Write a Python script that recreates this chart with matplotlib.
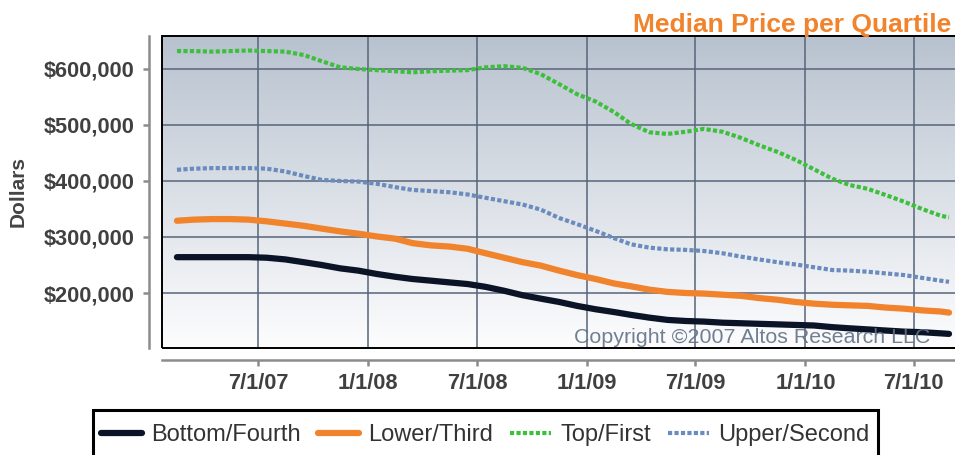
import matplotlib
matplotlib.use("Agg")
import matplotlib.pyplot as plt
from matplotlib.colors import LinearSegmentedColormap
from matplotlib.patches import Rectangle
import numpy as np
import pandas as pd

plt.rcParams['font.family'] = ['Liberation Sans', 'DejaVu Sans']

dates = ["2007-02-15", "2007-03-15", "2007-04-15", "2007-05-15", "2007-06-15",
         "2007-07-15", "2007-08-15", "2007-09-15", "2007-10-15", "2007-11-15",
         "2007-12-15", "2008-01-15", "2008-02-15", "2008-03-15", "2008-04-15",
         "2008-05-15", "2008-06-15", "2008-07-15", "2008-08-15", "2008-09-15",
         "2008-10-15", "2008-11-15", "2008-12-15", "2009-01-15", "2009-02-15",
         "2009-03-15", "2009-04-15", "2009-05-15", "2009-06-15", "2009-07-15",
         "2009-08-15", "2009-09-15", "2009-10-15", "2009-11-15", "2009-12-15",
         "2010-01-15", "2010-02-15", "2010-03-15", "2010-04-15", "2010-05-15",
         "2010-06-15", "2010-07-15", "2010-08-15", "2010-08-29"]

# values in thousands of dollars
top_first = [632, 632, 631, 632, 633, 632, 631, 625, 614, 603,
             600, 598, 596, 594, 596, 597, 598, 603, 605, 602,
             591, 573, 555, 542, 523, 502, 487, 484, 488, 493,
             488, 477, 464, 452, 438, 421, 404, 393, 386, 375,
             363, 350, 338, 335]
upper_second = [420, 422, 423, 423, 423, 422, 417, 409, 402, 400,
                399, 395, 389, 384, 382, 380, 376, 370, 364, 358,
                349, 334, 323, 311, 298, 287, 281, 278, 277, 275,
                271, 265, 260, 255, 251, 246, 241, 240, 238, 235,
                232, 227, 222, 220]
lower_third = [329, 331, 332, 332, 331, 328, 324, 320, 315, 310,
               306, 301, 297, 289, 285, 283, 279, 271, 263, 255,
               249, 240, 232, 225, 217, 212, 206, 202, 200, 199,
               197, 195, 191, 188, 184, 181, 179, 178, 177, 174,
               172, 169, 167, 165]
bottom_fourth = [264, 264, 264, 264, 264, 263, 260, 255, 250, 244,
                 240, 234, 229, 225, 222, 219, 216, 211, 204, 196,
                 190, 184, 177, 171, 166, 161, 156, 152, 150, 149,
                 147, 146, 145, 144, 143, 142, 139, 137, 135, 133,
                 131, 130, 128, 127]

x_ticks = ["2007-07-01", "2008-01-01", "2008-07-01", "2009-01-01",
           "2009-07-01", "2010-01-01", "2010-07-01"]
x_tick_labels = ["7/1/07", "1/1/08", "7/1/08", "1/1/09", "7/1/09", "1/1/10", "7/1/10"]
y_ticks = [200000, 300000, 400000, 500000, 600000]
y_tick_labels = ["$200,000", "$300,000", "$400,000", "$500,000", "$600,000"]

x = pd.to_datetime(dates)
W, H = 955, 455
fig = plt.figure(figsize=(W / 100, H / 100), dpi=100)
ax_w = 1.005 - 162 / W
ax = fig.add_axes([162 / W, 1 - 348 / H, ax_w, (348 - 36) / H])

ax.set_xlim(pd.Timestamp("2007-01-21"), pd.Timestamp("2010-09-16"))
ax.set_ylim(101800, 658900)

# gradient background
cmap = LinearSegmentedColormap.from_list("bg", ["#fdfdfe", "#b8c2cf"])
grad = np.linspace(0, 1, 256).reshape(-1, 1)
ax.imshow(grad, aspect="auto", cmap=cmap, origin="lower",
          extent=[0, 1, 0, 1], transform=ax.transAxes, zorder=0)

ax.set_xticks(pd.to_datetime(x_ticks))
ax.set_xticklabels(x_tick_labels)
ax.set_yticks(y_ticks)
ax.set_yticklabels(y_tick_labels)
ax.grid(True, color="#56657a", lw=1.1, zorder=1)
ax.set_axisbelow(True)

scale = 1000
ax.plot(x, np.array(bottom_fourth) * scale, color="#0b1426", lw=4.5,
        solid_capstyle="round", label="Bottom/Fourth", zorder=3)
ax.plot(x, np.array(lower_third) * scale, color="#f0832c", lw=4.5,
        solid_capstyle="round", label="Lower/Third", zorder=3)
ax.plot(x, np.array(top_first) * scale, color="#3cc03c", lw=3.0,
        linestyle=(0, (1, 0.55)), dash_capstyle="butt", label="Top/First", zorder=3)
ax.plot(x, np.array(upper_second) * scale, color="#6a8bbd", lw=3.0,
        linestyle=(0, (1, 0.55)), dash_capstyle="butt", label="Upper/Second", zorder=3)

# spines: gray offset axes
for s in ["top", "right"]:
    ax.spines[s].set_visible(False)
ax.spines["left"].set_position(("outward", 9.4))
ax.spines["bottom"].set_position(("outward", 8.6))
for s in ["left", "bottom"]:
    ax.spines[s].set_color("#8c8c8c")
    ax.spines[s].set_linewidth(1.8)
ax.tick_params(axis="both", colors="#8c8c8c", length=4.5, width=1.8)
ax.tick_params(axis="y", pad=6)
ax.tick_params(axis="x", pad=5)
for lab in ax.get_xticklabels() + ax.get_yticklabels():
    lab.set_fontsize(15.7)
    lab.set_fontweight("bold")
    lab.set_color("#404040")

# black frame of plot area
ax.add_patch(Rectangle((0, 0), 1, 1, transform=ax.transAxes, fill=False,
                       ec="black", lw=1.4, zorder=5, clip_on=False))

ax.text(1 - 30 / (W * ax_w), 0.016, "Copyright \u00a92007 Altos Research LLC",
        transform=ax.transAxes, ha="right", va="baseline", fontsize=15.4,
        color="#627286", alpha=0.9, zorder=6)

fig.text(951 / W, 1 - 32 / H, "Median Price per Quartile", ha="right", va="baseline",
         fontsize=19, fontweight="bold", color="#f0832c")
fig.text(18 / W, 1 - 191 / H, "Dollars", rotation=90, ha="center", va="center",
         fontsize=15, fontweight="bold", color="#444444")

leg = fig.legend(loc="center left", bbox_to_anchor=(101 / W, 1 - 435 / H), ncol=4,
                 fontsize=17, frameon=False, borderpad=0,
                 handlelength=1.75, handletextpad=0.38, columnspacing=0.72,
                 borderaxespad=0)
for t in leg.get_texts():
    t.set_color("#333333")
fig.add_artist(Rectangle((93 / W, 1 - 470 / H), (878 - 93) / W, 60 / H,
                         transform=fig.transFigure, fill=False, ec="black",
                         lw=2.2, clip_on=False))

fig.savefig("out.png", dpi=100)
